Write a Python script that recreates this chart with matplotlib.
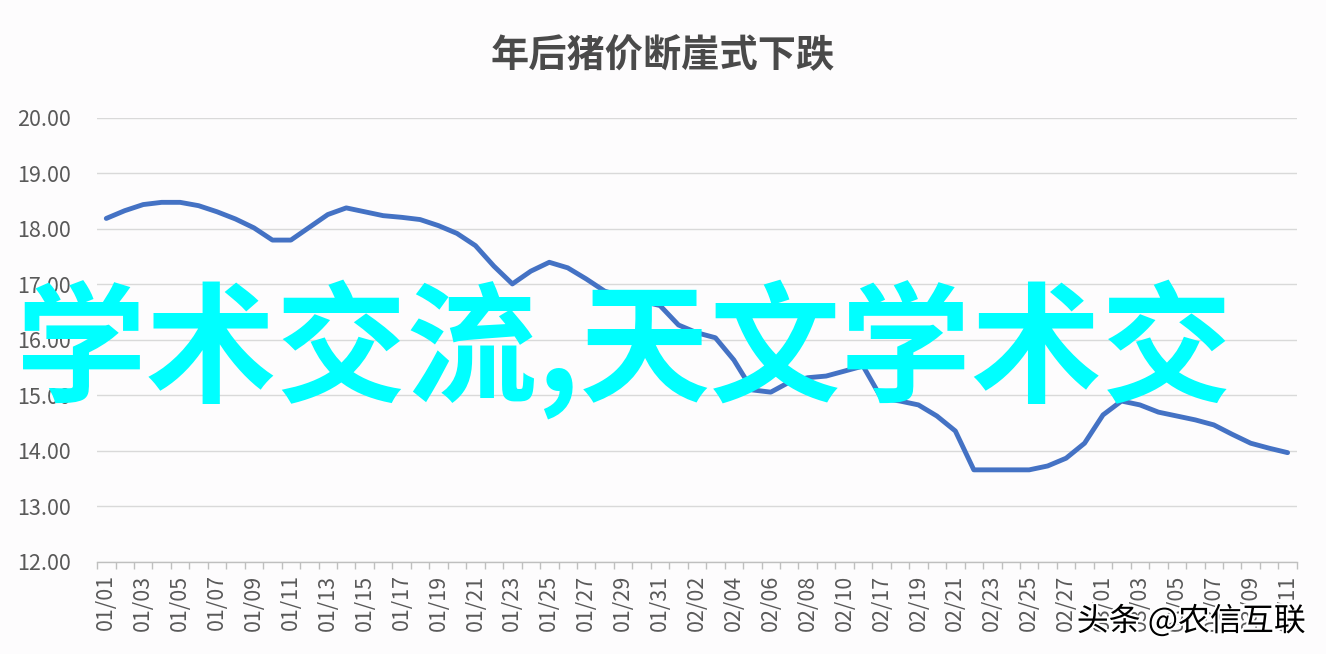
import matplotlib
matplotlib.use('Agg')
import matplotlib.pyplot as plt
import matplotlib.patheffects as pe
import numpy as np

plt.rcParams['font.family'] = ['Noto Sans CJK SC', 'DejaVu Sans']

# categories (spring festival gap after 02/10)
dates = ([f"01/{d:02d}" for d in range(1, 32)]
         + [f"02/{d:02d}" for d in range(1, 11)]
         + ["02/16"]
         + [f"02/{d:02d}" for d in range(17, 29)]
         + [f"03/{d:02d}" for d in range(1, 12)])

prices = [18.19, 18.33, 18.44, 18.48, 18.48, 18.42, 18.31, 18.18, 18.02, 17.80,
          17.80, 18.03, 18.26, 18.38, 18.31, 18.24, 18.21, 18.17, 18.06, 17.92,
          17.70, 17.33, 17.01, 17.24, 17.40, 17.30, 17.10, 16.88, 16.78, 16.70,
          16.62,
          16.27, 16.13, 16.04, 15.64, 15.10, 15.06, 15.24, 15.32, 15.35, 15.44,
          15.53,
          14.95, 14.90, 14.83, 14.63, 14.36, 13.66, 13.66, 13.66, 13.66, 13.73,
          13.87, 14.14,
          14.65, 14.90, 14.83, 14.70, 14.63, 14.56, 14.47, 14.30, 14.14, 14.05,
          13.97]

y_ticks = [12, 13, 14, 15, 16, 17, 18, 19, 20]

title = "年后猪价断崖式下跌"
watermark = "学术交流,天文学术交"
source = "头条 @农信互联"

fig = plt.figure(figsize=(13.26, 6.54), dpi=100)
fig.patch.set_facecolor('#fdfcfd')
ax = fig.add_axes([0.0732, 0.1407, 0.9048, 0.6789])
ax.set_facecolor('#fdfcfd')

x = np.arange(len(dates))
ax.plot(x, prices, color='#4472C4', lw=3.5, solid_joinstyle='round',
        solid_capstyle='round', zorder=3)

ax.set_xlim(-0.5, len(dates) - 0.5)
ax.set_ylim(12, 20)
ax.set_yticks(y_ticks)
ax.set_yticklabels([f"{v:.2f}" for v in y_ticks])
ax.grid(axis='y', color='#d9d9d9', lw=1.0)
ax.set_axisbelow(True)

ax.set_xticks(x[::2])
ax.set_xticklabels(dates[::2], rotation=90)
ax.set_xticks(np.arange(-0.5, len(dates), 1), minor=True)
ax.tick_params(axis='x', which='major', length=0, pad=9,
               labelsize=15.5, labelcolor='#595959')
ax.tick_params(axis='x', which='minor', length=5, color='#bfbfbf', width=1)
ax.tick_params(axis='y', length=0, pad=19, labelsize=15.5, labelcolor='#595959')

for s in ['top', 'right', 'left']:
    ax.spines[s].set_visible(False)
ax.spines['bottom'].set_color('#bfbfbf')
ax.spines['bottom'].set_linewidth(1)

fig.text(0.5, 0.915, title, ha='center', va='center', fontsize=27.5,
         fontweight='bold', color='#4a4a4a')

fig.text(0.012, 0.465, watermark, ha='left', va='center', fontsize=94,
         fontweight='bold', color='#00ffff', zorder=10)

fig.text(0.985, 0.05, source, ha='right', va='center', fontsize=23,
         color='black', zorder=10,
         path_effects=[pe.withStroke(linewidth=3, foreground='white')])

fig.savefig('out.png', dpi=100, facecolor=fig.get_facecolor())
